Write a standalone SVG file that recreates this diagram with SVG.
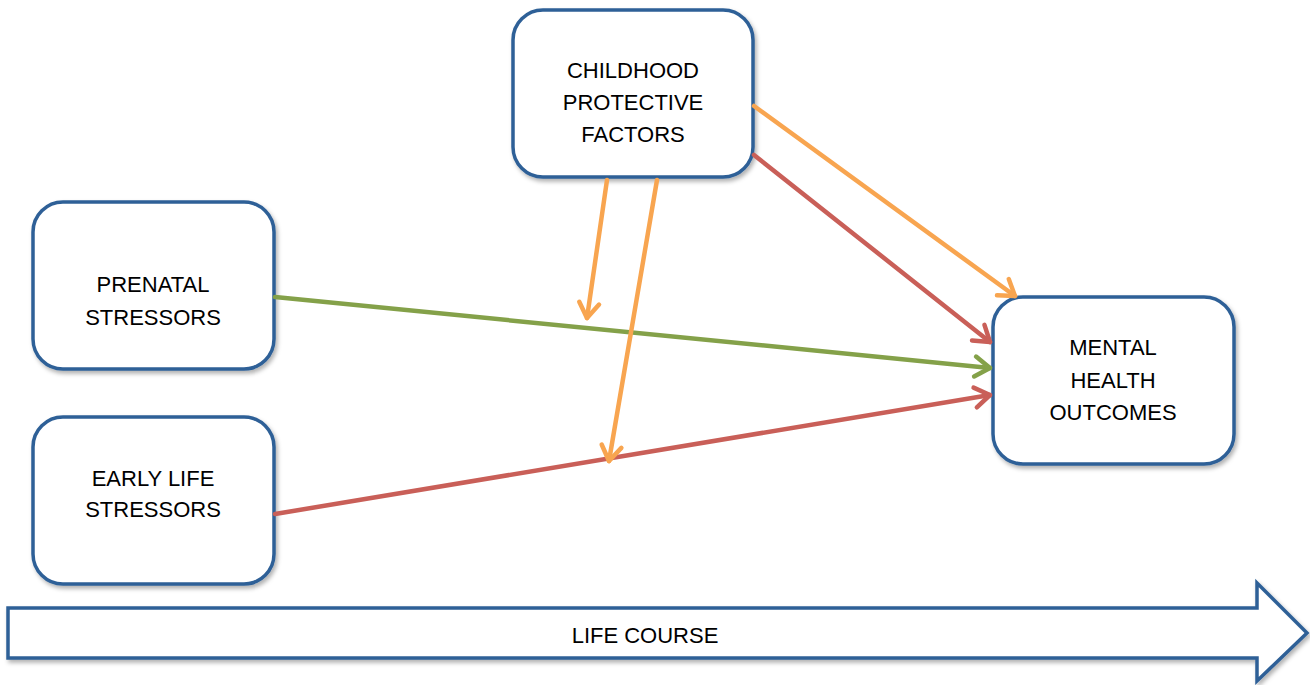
<svg xmlns="http://www.w3.org/2000/svg" width="1310" height="685" viewBox="0 0 1310 685">
<defs>
<filter id="sh" x="-10%" y="-10%" width="130%" height="130%">
<feDropShadow dx="2" dy="3" stdDeviation="2" flood-color="#000" flood-opacity="0.3"/>
</filter>
<marker id="mo" markerUnits="userSpaceOnUse" markerWidth="40" markerHeight="40" viewBox="-20 -20 40 40" refX="0" refY="0" orient="auto">
<path d="M-15,-10 L0,0 L-15,10" fill="none" stroke="#F8A550" stroke-width="4.5" stroke-linecap="round" stroke-linejoin="round"/>
</marker>
<marker id="mr" markerUnits="userSpaceOnUse" markerWidth="40" markerHeight="40" viewBox="-20 -20 40 40" refX="0" refY="0" orient="auto">
<path d="M-15,-10 L0,0 L-15,10" fill="none" stroke="#C95F58" stroke-width="4.5" stroke-linecap="round" stroke-linejoin="round"/>
</marker>
<marker id="mg" markerUnits="userSpaceOnUse" markerWidth="40" markerHeight="40" viewBox="-20 -20 40 40" refX="0" refY="0" orient="auto">
<path d="M-15,-10 L0,0 L-15,10" fill="none" stroke="#84A149" stroke-width="4.5" stroke-linecap="round" stroke-linejoin="round"/>
</marker>
</defs>
<style>
.box{fill:#fff;stroke:#2F6097;stroke-width:3.5;filter:url(#sh)}
.t{font-family:"Liberation Sans",Arial,sans-serif;font-size:22px;fill:#000;text-anchor:middle}
.c{fill:none;stroke-width:4.5;stroke-linecap:round}
.o{stroke:#F8A550;marker-end:url(#mo)}
.r{stroke:#C95F58;marker-end:url(#mr)}
.g{stroke:#84A149;marker-end:url(#mg)}
</style>
<rect width="1310" height="685" fill="#fff"/>
<g id="life-course">
<path class="box" d="M8,608 L1257,608 L1257,583 L1307,633 L1257,681 L1257,658 L8,658 Z"/>
<text class="t" x="645" y="643">LIFE COURSE</text>
</g>
<g id="childhood">
<rect class="box" x="513" y="10" width="240" height="167" rx="30"/>
<text class="t" x="633" y="78">CHILDHOOD</text>
<text class="t" x="633" y="110">PROTECTIVE</text>
<text class="t" x="633" y="142">FACTORS</text>
</g>
<g id="prenatal">
<rect class="box" x="33" y="202" width="241" height="167" rx="30"/>
<text class="t" x="153" y="292">PRENATAL</text>
<text class="t" x="153" y="325">STRESSORS</text>
</g>
<g id="early-life">
<rect class="box" x="33" y="417" width="241" height="167" rx="30"/>
<text class="t" x="153" y="486">EARLY LIFE</text>
<text class="t" x="153" y="517">STRESSORS</text>
</g>
<g id="mental-health">
<rect class="box" x="993" y="297" width="241" height="167" rx="30"/>
<text class="t" x="1113" y="355">MENTAL</text>
<text class="t" x="1113" y="388">HEALTH</text>
<text class="t" x="1113" y="420">OUTCOMES</text>
</g>
<g id="connectors">
<line class="c g" x1="275" y1="297" x2="990" y2="368"/>
<line class="c r" x1="275" y1="514" x2="990" y2="395"/>
<line class="c r" x1="754" y1="155" x2="990" y2="342"/>
<line class="c o" x1="754" y1="106" x2="1015" y2="296"/>
<line class="c o" x1="607" y1="180" x2="587" y2="318"/>
<line class="c o" x1="657" y1="180" x2="609" y2="461"/>
</g>
</svg>
